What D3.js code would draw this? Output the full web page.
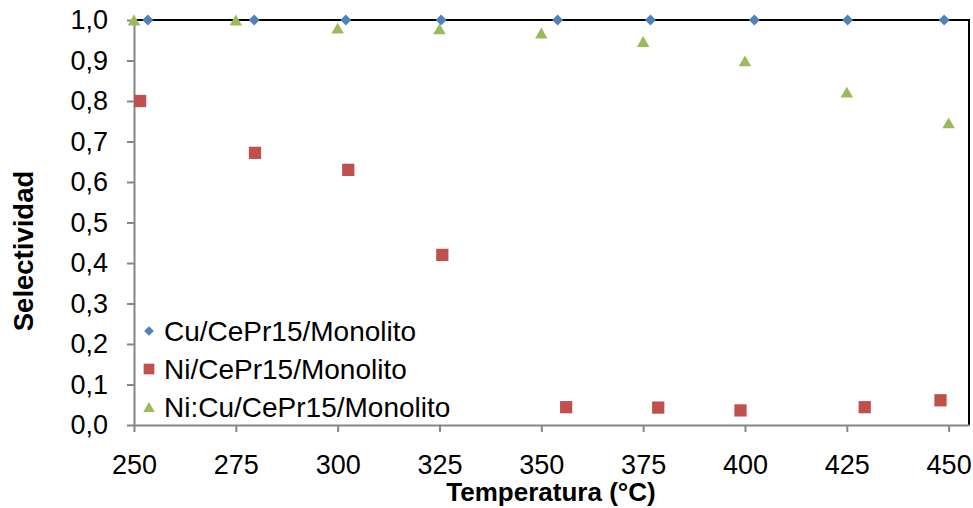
<!DOCTYPE html>
<html>
<head>
<meta charset="utf-8">
<script src="https://cdn.jsdelivr.net/npm/d3@7"></script>
<style>
  html, body { margin: 0; padding: 0; background: #fff; }
  svg { display: block; font-family: "Liberation Sans", Arial, sans-serif; }
</style>
</head>
<body>
<svg id="chart" width="973" height="508"></svg>
<script>
// Temperatures (°C) and selectivity for each catalyst
const cuTemp = [253.4, 279.5, 302, 325.4, 354, 376.8, 402.3, 425.2, 448.9];
const cuSel  = [1, 1, 1, 1, 1, 1, 1, 1, 1];

const niTemp = [251.5, 279.7, 302.6, 325.7, 356.1, 378.7, 398.9, 429.4, 448];
const niSel  = [0.80, 0.672, 0.63, 0.42, 0.044, 0.043, 0.036, 0.044, 0.061];

const niCuTemp = [250, 275, 300, 325, 350, 375, 400, 425, 450];
const niCuSel  = [1.0, 1.0, 0.98, 0.978, 0.968, 0.947, 0.899, 0.822, 0.746];

const xTicks = [250, 275, 300, 325, 350, 375, 400, 425, 450];
const yTicks = [0, 0.1, 0.2, 0.3, 0.4, 0.5, 0.6, 0.7, 0.8, 0.9, 1.0];

const seriesNames = ["Cu/CePr15/Monolito", "Ni/CePr15/Monolito", "Ni:Cu/CePr15/Monolito"];
const seriesColors = ["#4F81BD", "#C0504D", "#9BBB59"];

const series = [
  { name: seriesNames[0], color: seriesColors[0], shape: d3.symbolDiamond2, t: cuTemp, s: cuSel },
  { name: seriesNames[1], color: seriesColors[1], shape: d3.symbolSquare, t: niTemp, s: niSel },
  { name: seriesNames[2], color: seriesColors[2], shape: d3.symbolTriangle, t: niCuTemp, s: niCuSel }
];

const svg = d3.select("#chart");
const plotL = 134, plotR = 969, plotT = 20, plotB = 425;

const x = d3.scaleLinear().domain([250, 455]).range([plotL, plotR]);
const y = d3.scaleLinear().domain([0, 1]).range([plotB, plotT]);

const fmt = d => d.toFixed(1).replace(".", ",");

// Frame: black on top and right
svg.append("line").attr("x1", plotL).attr("x2", plotR).attr("y1", plotT).attr("y2", plotT)
  .attr("stroke", "#000").attr("stroke-width", 2);
svg.append("line").attr("x1", plotR).attr("x2", plotR).attr("y1", plotT - 1).attr("y2", plotB)
  .attr("stroke", "#000").attr("stroke-width", 2);

// Y axis
const yAxis = svg.append("g").attr("transform", `translate(${plotL},0)`)
  .call(d3.axisLeft(y).tickValues(yTicks).tickFormat(fmt).tickSize(7).tickSizeOuter(0).tickPadding(19));
yAxis.attr("font-family", null).attr("font-size", null);
yAxis.select(".domain").attr("stroke", "#868686").attr("stroke-width", 2);
yAxis.selectAll(".tick line").attr("stroke", "#868686").attr("stroke-width", 2);
yAxis.selectAll(".tick text").attr("fill", "#000").style("font-size", "27px");

// X axis
const xAxis = svg.append("g").attr("transform", `translate(0,${plotB})`)
  .call(d3.axisBottom(x).tickValues(xTicks).tickFormat(d3.format("d")).tickSize(7).tickSizeOuter(0).tickPadding(23));
xAxis.attr("font-family", null).attr("font-size", null);
xAxis.select(".domain").attr("stroke", "#868686").attr("stroke-width", 2);
xAxis.selectAll(".tick line").attr("stroke", "#868686").attr("stroke-width", 2);
xAxis.selectAll(".tick text").attr("fill", "#000").style("font-size", "27px");

// Axis titles
svg.append("text").attr("x", 551).attr("y", 501)
  .attr("text-anchor", "middle").style("font-size", "26px").style("font-weight", "bold")
  .text("Temperatura (°C)");
svg.append("text").attr("transform", `translate(33,251) rotate(-90)`)
  .attr("text-anchor", "middle").style("font-size", "27.5px").style("font-weight", "bold")
  .text("Selectividad");

// Marker shapes; triangles are centred on their bounding box
function marker(shape, size) {
  const path = d3.symbol().type(shape).size(size)();
  const dy = shape === d3.symbolTriangle ? Math.sqrt(size / (Math.sqrt(3) * 3)) / 2 : 0;
  return { path, dy };
}

// Data points
const sizes = [75, 150, 68];
series.forEach((sr, k) => {
  const m = marker(sr.shape, sizes[k]);
  const pts = sr.t.map((t, i) => ({ t, s: sr.s[i] }));
  svg.append("g").selectAll("path").data(pts).join("path")
    .attr("d", m.path)
    .attr("transform", d => `translate(${x(d.t)},${y(d.s) + m.dy})`)
    .attr("fill", sr.color);
});

// Legend
const legend = svg.append("g");
const legendSizes = [60, 115, 58];
series.forEach((sr, i) => {
  const ly = 331 + i * 38;
  const m = marker(sr.shape, legendSizes[i]);
  legend.append("path")
    .attr("d", m.path)
    .attr("transform", `translate(149,${ly + m.dy})`)
    .attr("fill", sr.color);
  legend.append("text").attr("x", 164).attr("y", ly + 10)
    .style("font-size", "28px").attr("fill", "#000").text(sr.name);
});
</script>
</body>
</html>
